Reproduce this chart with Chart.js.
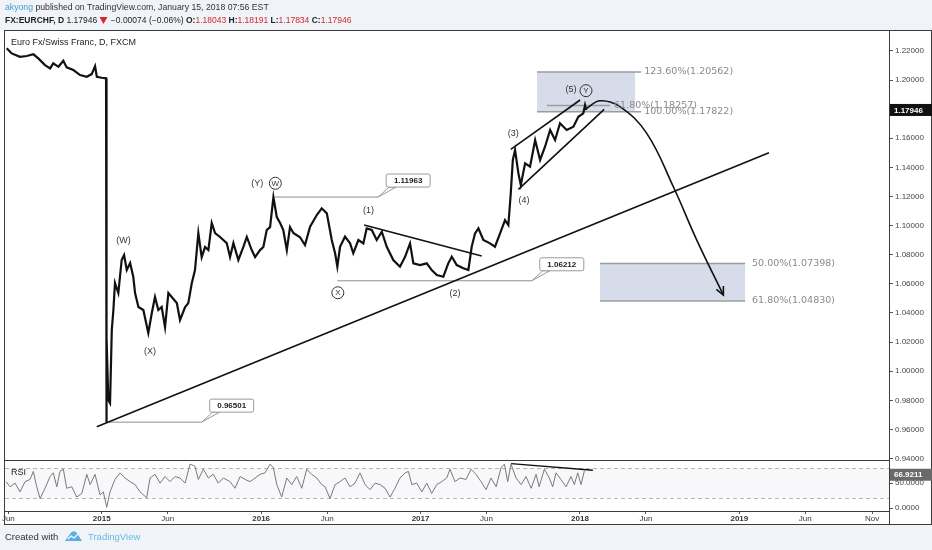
<!DOCTYPE html>
<html>
<head>
<meta charset="utf-8">
<script src="https://cdn.jsdelivr.net/npm/chart.js@4.4.1/dist/chart.umd.min.js"></script>
<style>
  html, body { margin: 0; padding: 0; background: #fff; }
  #wrap { width: 932px; height: 550px; position: relative; }
</style>
</head>
<body>
<div id="wrap"><canvas id="chart" width="932" height="550"></canvas></div>
<script>
// EURCHF daily (dates as decimal years)
const priceDates = [
  2014.404, 2014.435, 2014.487, 2014.529, 2014.571, 2014.602, 2014.644, 2014.676, 2014.696, 2014.728,
  2014.759, 2014.780, 2014.822, 2014.864, 2014.906, 2014.937, 2014.958, 2014.969, 2015.000, 2015.027,
  2015.029, 2015.031, 2015.041, 2015.052, 2015.063, 2015.073, 2015.083, 2015.104, 2015.125, 2015.140,
  2015.157, 2015.178, 2015.198, 2015.209, 2015.230, 2015.261, 2015.292, 2015.314, 2015.334, 2015.355,
  2015.376, 2015.397, 2015.418, 2015.439, 2015.471, 2015.491, 2015.523, 2015.543, 2015.565, 2015.585,
  2015.606, 2015.627, 2015.648, 2015.669, 2015.690, 2015.711, 2015.742, 2015.784, 2015.805, 2015.826,
  2015.857, 2015.888, 2015.910, 2015.941, 2015.962, 2015.993, 2016.014, 2016.035, 2016.056, 2016.077,
  2016.098, 2016.119, 2016.139, 2016.161, 2016.181, 2016.202, 2016.244, 2016.275, 2016.307, 2016.349,
  2016.380, 2016.412, 2016.443, 2016.464, 2016.478, 2016.495, 2016.526, 2016.558, 2016.578, 2016.610,
  2016.641, 2016.662, 2016.694, 2016.725, 2016.757, 2016.788, 2016.829, 2016.871, 2016.903, 2016.934,
  2016.955, 2016.997, 2017.039, 2017.070, 2017.102, 2017.143, 2017.174, 2017.196, 2017.227, 2017.269,
  2017.300, 2017.321, 2017.342, 2017.363, 2017.394, 2017.436, 2017.467, 2017.499, 2017.530, 2017.551,
  2017.566, 2017.579, 2017.593, 2017.614, 2017.629, 2017.656, 2017.687, 2017.719, 2017.750, 2017.781,
  2017.813, 2017.844, 2017.875, 2017.917, 2017.959, 2017.990, 2018.021, 2018.032, 2018.040
];
const priceValues = [
  1.2218, 1.2183, 1.2160, 1.2165, 1.2177, 1.2149, 1.2103, 1.2080, 1.2115, 1.2091,
  1.2133, 1.2087, 1.2069, 1.2034, 1.2023, 1.2041, 1.2096, 1.2023, 1.2016, 1.2012,
  0.9650, 1.0237, 0.9802, 0.9780, 1.0283, 1.0420, 1.0606, 1.0537, 1.0764, 1.0798,
  1.0695, 1.0743, 1.0647, 1.0537, 1.0441, 1.0420, 1.0262, 1.0400, 1.0510, 1.0420,
  1.0441, 1.0303, 1.0537, 1.0510, 1.0468, 1.0352, 1.0441, 1.0468, 1.0606, 1.0695,
  1.0949, 1.0784, 1.0853, 1.0832, 1.1018, 1.0949, 1.0922, 1.0880, 1.0784, 1.0880,
  1.0764, 1.0853, 1.0922, 1.0832, 1.0784, 1.0832, 1.0853, 1.0970, 1.0990, 1.1196,
  1.1059, 1.1018, 1.0970, 1.0832, 1.0990, 1.0949, 1.0920, 1.0867, 1.0993, 1.1073,
  1.1119, 1.1084, 1.0901, 1.0810, 1.0718, 1.0855, 1.0924, 1.0878, 1.0810, 1.0901,
  1.0878, 1.0981, 1.0970, 1.0901, 1.0958, 1.0855, 1.0764, 1.0718, 1.0786, 1.0878,
  1.0741, 1.0729, 1.0741, 1.0695, 1.0661, 1.0649, 1.0741, 1.0786, 1.0729, 1.0707,
  1.0695, 1.0855, 1.0947, 1.0981, 1.0901, 1.0878, 1.0855, 1.0947, 1.1038, 1.1004,
  1.1222, 1.1451, 1.1519, 1.1359, 1.1279, 1.1428, 1.1405, 1.1588, 1.1451, 1.1542,
  1.1657, 1.1588, 1.1703, 1.1657, 1.1679, 1.1748, 1.1771, 1.1828, 1.17946
];

// RSI(14) pane
const rsiDates = [
  2014.400, 2014.425, 2014.456, 2014.487, 2014.519, 2014.550, 2014.571, 2014.592, 2014.613, 2014.644,
  2014.676, 2014.696, 2014.718, 2014.738, 2014.759, 2014.780, 2014.812, 2014.843, 2014.875, 2014.906,
  2014.927, 2014.958, 2014.989, 2015.010, 2015.031, 2015.052, 2015.083, 2015.115, 2015.146, 2015.178,
  2015.209, 2015.240, 2015.282, 2015.303, 2015.334, 2015.366, 2015.397, 2015.428, 2015.460, 2015.491,
  2015.523, 2015.554, 2015.585, 2015.606, 2015.637, 2015.669, 2015.700, 2015.731, 2015.763, 2015.805,
  2015.836, 2015.868, 2015.899, 2015.930, 2015.962, 2015.993, 2016.024, 2016.056, 2016.077, 2016.098,
  2016.129, 2016.161, 2016.192, 2016.223, 2016.255, 2016.286, 2016.317, 2016.349, 2016.380, 2016.401,
  2016.432, 2016.464, 2016.495, 2016.526, 2016.558, 2016.589, 2016.620, 2016.652, 2016.683, 2016.715,
  2016.746, 2016.777, 2016.809, 2016.840, 2016.871, 2016.903, 2016.924, 2016.945, 2016.976, 2017.008,
  2017.039, 2017.070, 2017.102, 2017.133, 2017.164, 2017.185, 2017.216, 2017.248, 2017.285, 2017.317,
  2017.348, 2017.380, 2017.411, 2017.442, 2017.474, 2017.505, 2017.526, 2017.547, 2017.568, 2017.599,
  2017.631, 2017.662, 2017.694, 2017.725, 2017.744, 2017.777, 2017.808, 2017.829, 2017.850, 2017.881,
  2017.913, 2017.944, 2017.965, 2017.986, 2018.007, 2018.028
];
const rsiValues = [
  52, 45, 50, 38, 52, 55, 66, 45, 29, 43,
  59, 64, 45, 66, 69, 43, 45, 31, 36, 62,
  48, 62, 34, 38, 17, 38, 55, 64, 57, 52,
  48, 38, 30, 57, 62, 50, 59, 52, 59, 57,
  50, 76, 73, 55, 69, 57, 62, 50, 57, 52,
  43, 59, 55, 52, 57, 62, 64, 76, 71, 48,
  31, 57, 48, 59, 43, 69, 62, 57, 48, 45,
  29, 48, 52, 57, 45, 50, 64, 48, 41, 50,
  48, 43, 31, 43, 57, 64, 66, 48, 50, 38,
  50, 36, 48, 52, 57, 69, 52, 57, 55, 69,
  62, 52, 41, 57, 45, 71, 76, 52, 76, 57,
  48, 59, 43, 62, 45, 69, 57, 45, 64, 55,
  45, 59, 48, 64, 48, 66.9211
];

const priceTicks = [0.94, 0.96, 0.98, 1.00, 1.02, 1.04, 1.06, 1.08, 1.10, 1.12, 1.14, 1.16, 1.18, 1.20, 1.22];
const rsiTicks = [16, 50];
const rsiTickLabels = ['0.0000', '50.0000'];
const timeTicks = [2014.414, 2015, 2015.414, 2016, 2016.414, 2017, 2017.414, 2018, 2018.414, 2019, 2019.414, 2019.833];
const timeLabels = ['Jun', '2015', 'Jun', '2016', 'Jun', '2017', 'Jun', '2018', 'Jun', '2019', 'Jun', 'Nov'];

// drawings on the chart: [fromDate, fromValue, toDate, toValue]
const trendLines = [
  [2014.969, 0.9619, 2019.186, 1.1501],
  [2016.646, 1.1004, 2017.384, 1.0791],
  [2017.566, 1.1524, 2018.001, 1.1863],
  [2017.614, 1.1249, 2018.152, 1.1799]
];
const levelValues = [0.96501, 1.11963, 1.06212];
const levelFrom = [2015.027, 2016.087, 2016.478];
const levelTo = [2015.627, 2016.734, 2017.698];

const arrowDates = [2018.042, 2018.126, 2018.251, 2018.419, 2018.586, 2018.733, 2018.900];
const arrowValues = [1.1806, 1.1858, 1.1817, 1.1634, 1.1267, 1.0901, 1.0523];

const rsiLineDates = [2017.568, 2018.081];
const rsiLineValues = [76.6, 67.6];

// fibonacci zones
const fibTopValues = [1.20562, 1.17822];
const fibTopLabels = ['123.60%(1.20562)', '100.00%(1.17822)'];
const fibTopDates = [2017.731, 2018.346, 2018.384];
const fibMidValue = 1.18257;
const fibMidLabel = '61.80%(1.18257)';
const fibMidDates = [2017.793, 2018.189];
const fibLowValues = [1.07398, 1.04830];
const fibLowLabels = ['50.00%(1.07398)', '61.80%(1.04830)'];
const fibLowDates = [2018.126, 2019.036];

// elliott wave labels
const waveText = ['(W)', '(X)', '(Y)', 'W', 'X', '(1)', '(2)', '(3)', '(4)', '(5)', 'Y'];
const waveDates = [2015.136, 2015.303, 2015.976, 2016.089, 2016.481, 2016.673, 2017.216, 2017.582, 2017.649, 2017.944, 2018.038];
const waveValues = [1.0901, 1.0141, 1.1291, 1.1291, 1.0539, 1.1107, 1.0535, 1.1638, 1.1176, 1.1936, 1.1927];
const waveCircled = [false, false, false, true, true, false, false, false, false, false, true];

const lastPrice = 1.17946;
const lastRsi = 66.9211;

const FONT = '"Liberation Sans", Arial, sans-serif';
const VFONT = '"DejaVu Sans", Verdana, sans-serif';
const BG = '#f0f3f7';

function pts(xs, ys) { return xs.map((x, i) => ({ x: x, y: ys[i] })); }

const datasets = [
  { data: pts(priceDates, priceValues), yAxisID: 'y', borderColor: '#111', borderWidth: 2.2, pointRadius: 0, tension: 0 },
  { data: pts(rsiDates, rsiValues), yAxisID: 'rsi', borderColor: '#7a7a7a', borderWidth: 1, pointRadius: 0, tension: 0 },
  { data: pts(rsiLineDates, rsiLineValues), yAxisID: 'rsi', borderColor: '#111', borderWidth: 1.4, pointRadius: 0 },
  { data: pts(arrowDates, arrowValues), yAxisID: 'y', borderColor: '#111', borderWidth: 1.6, pointRadius: 0, tension: 0.4 }
];
trendLines.forEach(t => {
  datasets.push({ data: [{ x: t[0], y: t[1] }, { x: t[2], y: t[3] }], yAxisID: 'y', borderColor: '#111', borderWidth: 1.6, pointRadius: 0 });
});
levelValues.forEach((v, i) => {
  datasets.push({ data: [{ x: levelFrom[i], y: v }, { x: levelTo[i], y: v }], yAxisID: 'y', borderColor: '#8e8e8e', borderWidth: 1, pointRadius: 0 });
});

function runs(c, x, y, size, parts) {
  parts.forEach(p => {
    c.font = (p[2] ? 'bold ' : '') + size + 'px ' + FONT;
    if (p[0] === '▼') {
      c.fillStyle = p[1];
      c.beginPath(); c.moveTo(x, y - 6); c.lineTo(x + 8, y - 6); c.lineTo(x + 4, y + 1); c.closePath(); c.fill();
      x += 9;
      return;
    }
    c.fillStyle = p[1];
    c.fillText(p[0], x, y);
    x += c.measureText(p[0]).width;
  });
}

function callout(c, ax, ay, text) {
  const bx = ax + 8, by = ay - 23, bw = 44, bh = 13;
  c.save();
  c.strokeStyle = '#9a9a9a'; c.fillStyle = '#fff'; c.lineWidth = 1;
  c.beginPath(); c.moveTo(ax, ay); c.lineTo(bx + 3, by + bh); c.lineTo(bx + 10, by + bh); c.closePath();
  c.fill(); c.stroke();
  c.beginPath(); c.roundRect(bx, by, bw, bh, 2); c.fill(); c.stroke();
  c.fillStyle = '#222'; c.font = 'bold 8px ' + FONT; c.textAlign = 'center'; c.textBaseline = 'middle';
  c.fillText(text, bx + bw / 2, by + bh / 2 + 0.5);
  c.restore();
}

const overlay = {
  id: 'overlay',
  beforeDraw(chart) {
    const c = chart.ctx;
    c.save();
    c.fillStyle = '#fff'; c.fillRect(0, 0, chart.width, chart.height);
    c.fillStyle = BG;
    c.fillRect(0, 0, chart.width, 30);
    c.fillRect(0, 524, chart.width, chart.height - 524);
    c.restore();
  },
  beforeDatasetsDraw(chart) {
    const c = chart.ctx, x = chart.scales.x, y = chart.scales.y, r = chart.scales.rsi;
    c.save();
    // rsi band
    c.fillStyle = '#f8f8fa';
    c.fillRect(x.left, r.getPixelForValue(70), x.width, r.getPixelForValue(30) - r.getPixelForValue(70));
    c.strokeStyle = '#b5b5b5'; c.lineWidth = 1; c.setLineDash([4, 3]);
    [70, 30].forEach(v => {
      const py = Math.round(r.getPixelForValue(v)) + 0.5;
      c.beginPath(); c.moveTo(x.left, py); c.lineTo(x.right, py); c.stroke();
    });
    c.setLineDash([]);
    // fib zones
    c.fillStyle = '#d6dce9';
    const x0 = x.getPixelForValue(fibTopDates[0]), x1 = x.getPixelForValue(fibTopDates[1]);
    const y0 = y.getPixelForValue(fibTopValues[0]), y1 = y.getPixelForValue(fibTopValues[1]);
    c.fillRect(x0, y0, x1 - x0, y1 - y0);
    const lx0 = x.getPixelForValue(fibLowDates[0]), lx1 = x.getPixelForValue(fibLowDates[1]);
    const ly0 = y.getPixelForValue(fibLowValues[0]), ly1 = y.getPixelForValue(fibLowValues[1]);
    c.fillRect(lx0, ly0, lx1 - lx0, ly1 - ly0);
    c.strokeStyle = '#9c9c9c'; c.lineWidth = 1.5;
    const x2 = x.getPixelForValue(fibTopDates[2]);
    [y0, y1].forEach(py => { c.beginPath(); c.moveTo(x0, py); c.lineTo(x2, py); c.stroke(); });
    [ly0, ly1].forEach(py => { c.beginPath(); c.moveTo(lx0, py); c.lineTo(lx1, py); c.stroke(); });
    const my = y.getPixelForValue(fibMidValue);
    c.beginPath(); c.moveTo(x.getPixelForValue(fibMidDates[0]), my); c.lineTo(x.getPixelForValue(fibMidDates[1]), my); c.stroke();
    c.restore();
  },
  afterDatasetsDraw(chart) {
    const c = chart.ctx, x = chart.scales.x, y = chart.scales.y;
    c.save();
    // fib labels
    c.font = '9.5px ' + VFONT; c.fillStyle = '#8a8a8a'; c.textBaseline = 'middle'; c.textAlign = 'left';
    const tx = x.getPixelForValue(fibTopDates[2]) + 3;
    c.fillText(fibMidLabel, x.getPixelForValue(fibMidDates[1]) + 4, y.getPixelForValue(fibMidValue));
    fibTopValues.forEach((v, i) => c.fillText(fibTopLabels[i], tx, y.getPixelForValue(v)));
    const lx = x.getPixelForValue(fibLowDates[1]) + 7;
    fibLowValues.forEach((v, i) => c.fillText(fibLowLabels[i], lx, y.getPixelForValue(v)));
    // arrowhead at the end of the projected path
    const meta = chart.getDatasetMeta(3);
    const end = meta.data[meta.data.length - 1];
    const ang = Math.atan2(end.y - end.cp1y, end.x - end.cp1x);
    c.strokeStyle = '#111'; c.lineWidth = 1.6;
    c.beginPath();
    c.moveTo(end.x - 9 * Math.cos(ang - 0.45), end.y - 9 * Math.sin(ang - 0.45));
    c.lineTo(end.x, end.y);
    c.lineTo(end.x - 9 * Math.cos(ang + 0.45), end.y - 9 * Math.sin(ang + 0.45));
    c.stroke();
    // wave labels
    c.textAlign = 'center'; c.textBaseline = 'middle';
    waveText.forEach((t, i) => {
      const px = x.getPixelForValue(waveDates[i]), py = y.getPixelForValue(waveValues[i]);
      c.fillStyle = '#333';
      if (waveCircled[i]) {
        c.strokeStyle = '#333'; c.lineWidth = 1;
        c.beginPath(); c.arc(px, py, 6, 0, Math.PI * 2); c.stroke();
        c.font = '8px ' + FONT;
      } else {
        c.font = '9px ' + FONT;
      }
      c.fillText(t, px, py + 0.5);
    });
    c.restore();
    // level callouts
    levelValues.forEach((v, i) => {
      callout(c, x.getPixelForValue(levelTo[i]), y.getPixelForValue(v), v.toFixed(5));
    });
  },
  afterDraw(chart) {
    const c = chart.ctx, a = chart.chartArea, x = chart.scales.x, y = chart.scales.y, r = chart.scales.rsi;
    c.save();
    // pane frames
    c.strokeStyle = '#3c3c3c'; c.lineWidth = 1;
    c.strokeRect(a.left - 0.5, a.top - 0.5, chart.width - a.left, x.bottom - a.top + 1);
    c.beginPath();
    c.moveTo(a.left, Math.round(y.bottom) + 0.5); c.lineTo(a.right, Math.round(y.bottom) + 0.5);
    c.moveTo(a.left, Math.round(a.bottom) + 0.5); c.lineTo(a.right, Math.round(a.bottom) + 0.5);
    c.moveTo(Math.round(a.right) + 0.5, a.top); c.lineTo(Math.round(a.right) + 0.5, x.bottom);
    c.stroke();
    // title
    c.fillStyle = '#222'; c.font = '9px ' + FONT; c.textBaseline = 'alphabetic'; c.textAlign = 'left';
    c.fillText('Euro Fx/Swiss Franc, D, FXCM', 11, 45);
    c.fillText('RSI', 11, 475);
    // last price boxes
    const py = y.getPixelForValue(lastPrice);
    c.fillStyle = '#111'; c.fillRect(a.right + 1, py - 6, chart.width - a.right - 1, 12);
    c.fillStyle = '#fff'; c.font = 'bold 8px ' + FONT; c.textBaseline = 'middle';
    c.fillText(lastPrice.toFixed(5), a.right + 5, py + 0.5);
    const ry = r.getPixelForValue(lastRsi) + 4;
    c.fillStyle = '#6a6a6a'; c.fillRect(a.right + 1, ry - 6, chart.width - a.right - 1, 12);
    c.fillStyle = '#fff';
    c.fillText(lastRsi.toFixed(4), a.right + 5, ry + 0.5);
    // header
    c.textBaseline = 'alphabetic';
    runs(c, 5, 10, 8.7, [['akyong', '#3d9fd6', false], [' published on TradingView.com, January 15, 2018 07:56 EST', '#333', false]]);
    runs(c, 5, 23, 8.5, [
      ['FX:EURCHF, D', '#222', true], [' 1.17946 ', '#222', false], ['▼', '#d9262c', false],
      [' \u22120.00074 (\u22120.06%) ', '#222', false],
      ['O:', '#222', true], ['1.18043', '#cf2a30', false],
      [' H:', '#222', true], ['1.18191', '#cf2a30', false],
      [' L:', '#222', true], ['1.17834', '#cf2a30', false],
      [' C:', '#222', true], ['1.17946', '#cf2a30', false]
    ]);
    // footer
    c.fillStyle = '#333'; c.font = '9.5px ' + FONT;
    c.fillText('Created with', 5, 540);
    c.fillStyle = '#5aaee0';
    c.beginPath();
    c.moveTo(65, 541); c.lineTo(70, 534); c.quadraticCurveTo(73, 529, 77, 533); c.lineTo(82, 541); c.closePath();
    c.fill();
    c.strokeStyle = '#fff'; c.lineWidth = 1.2;
    c.beginPath(); c.moveTo(68, 539); c.lineTo(71, 536); c.lineTo(74, 538); c.lineTo(78, 534); c.stroke();
    c.fillStyle = '#6bb8e4'; c.font = '9.5px ' + FONT;
    c.fillText('TradingView', 88, 540);
    c.restore();
  }
};

const chart = new Chart(document.getElementById('chart'), {
  type: 'line',
  data: { datasets: datasets },
  plugins: [overlay],
  options: {
    responsive: false,
    animation: false,
    devicePixelRatio: 1,
    layout: { padding: { left: 5, top: 31, right: 0, bottom: 26 } },
    plugins: { legend: { display: false }, tooltip: { enabled: false } },
    scales: {
      x: {
        type: 'linear', min: 2014.393, max: 2019.939,
        afterBuildTicks: s => { s.ticks = timeTicks.map(v => ({ value: v })); },
        afterFit: s => { s.height = 13; },
        ticks: {
          autoSkip: false, maxRotation: 0, padding: 0, color: '#333',
          callback: (v, i) => timeLabels[i],
          font: ctx => ({ family: FONT, size: 8, weight: /^\d{4}$/.test(timeLabels[ctx.index]) ? 'bold' : 'normal' })
        },
        grid: { drawOnChartArea: false, tickLength: 3, color: '#555' },
        border: { display: false }
      },
      y: {
        type: 'linear', position: 'right', stack: 'panes', stackWeight: 429,
        min: 0.939, max: 1.2337,
        afterBuildTicks: s => { s.ticks = priceTicks.map(v => ({ value: v })); },
        afterFit: s => { s.width = 43; },
        ticks: { callback: v => v.toFixed(5), color: '#444', padding: 2, font: { family: FONT, size: 8 } },
        grid: { drawOnChartArea: false, tickLength: 4, color: '#555' },
        border: { color: '#3c3c3c' }
      },
      rsi: {
        type: 'linear', position: 'right', stack: 'panes', stackWeight: 51,
        min: 11.9, max: 81.6,
        afterBuildTicks: s => { s.ticks = rsiTicks.map(v => ({ value: v })); },
        afterFit: s => { s.width = 43; },
        ticks: { callback: (v, i) => rsiTickLabels[i], color: '#444', padding: 2, font: { family: FONT, size: 8 } },
        grid: { drawOnChartArea: false, tickLength: 4, color: '#555' },
        border: { color: '#3c3c3c' }
      }
    }
  }
});
</script>
</body>
</html>
